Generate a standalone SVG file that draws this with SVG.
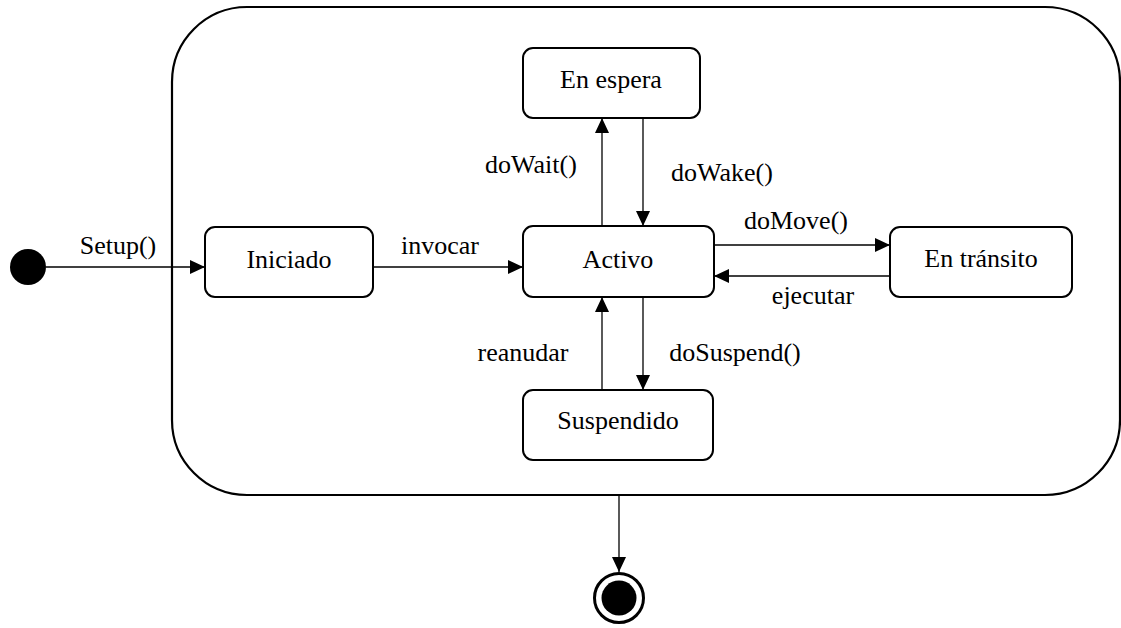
<svg xmlns="http://www.w3.org/2000/svg" width="1121" height="628" viewBox="0 0 1121 628">
  <style>
    .state { fill: #fff; stroke: #000; stroke-width: 2; }
    .label { font-family: 'Liberation Serif', 'Times New Roman', serif; font-size: 26px; fill: #000; text-anchor: middle; }
    .edge { fill: none; stroke: #000; stroke-width: 1.3; marker-end: url(#arrow); }
  </style>
  <defs>
    <marker id="arrow" viewBox="0 0 15 14" refX="15" refY="7" markerWidth="15" markerHeight="14" markerUnits="userSpaceOnUse" orient="auto">
      <path d="M0,0 L15,7 L0,14 Z" fill="#000"/>
    </marker>
  </defs>

  <rect fill="#fff" width="1121" height="628"/>

  <!-- composite state -->
  <g id="composite">
    <rect x="172" y="7" width="948" height="488" rx="75" ry="75" fill="none" stroke="#000" stroke-width="2.2"/>
  </g>

  <!-- transitions -->
  <g id="connectors">
    <line class="edge" x1="46" y1="267" x2="205" y2="267"/>
    <line class="edge" x1="373" y1="267" x2="523" y2="267"/>
    <line class="edge" x1="602" y1="226" x2="602" y2="118"/>
    <line class="edge" x1="643" y1="118" x2="643" y2="226"/>
    <line class="edge" x1="714" y1="245" x2="890" y2="245"/>
    <line class="edge" x1="890" y1="276" x2="714" y2="276"/>
    <line class="edge" x1="602" y1="390" x2="602" y2="297"/>
    <line class="edge" x1="643" y1="297" x2="643" y2="390"/>
    <line class="edge" x1="619" y1="495" x2="619" y2="572"/>

    <text class="label" x="118" y="254">Setup()</text>
    <text class="label" x="440" y="254">invocar</text>
    <text class="label" x="531" y="173">doWait()</text>
    <text class="label" x="722" y="181">doWake()</text>
    <text class="label" x="796" y="229">doMove()</text>
    <text class="label" x="813" y="304">ejecutar</text>
    <text class="label" x="523" y="361">reanudar</text>
    <text class="label" x="735" y="361">doSuspend()</text>
  </g>

  <g id="initial">
    <circle cx="28" cy="267" r="18" fill="#000"/>
  </g>

  <g id="iniciado">
    <rect class="state" x="205" y="227" width="168" height="70" rx="10"/>
    <text class="label" x="289" y="268">Iniciado</text>
  </g>

  <g id="activo">
    <rect class="state" x="523" y="226" width="191" height="71" rx="10"/>
    <text class="label" x="618" y="268">Activo</text>
  </g>

  <g id="en-espera">
    <rect class="state" x="523" y="48" width="177" height="70" rx="10"/>
    <text class="label" x="611" y="88">En espera</text>
  </g>

  <g id="en-transito">
    <rect class="state" x="890" y="227" width="182" height="70" rx="10"/>
    <text class="label" x="981" y="267">En tránsito</text>
  </g>

  <g id="suspendido">
    <rect class="state" x="523" y="390" width="190" height="70" rx="10"/>
    <text class="label" x="618" y="429">Suspendido</text>
  </g>

  <g id="final">
    <circle cx="619" cy="598" r="24.5" fill="#fff" stroke="#000" stroke-width="3"/>
    <circle cx="619" cy="598" r="17.5" fill="#000"/>
  </g>
</svg>
